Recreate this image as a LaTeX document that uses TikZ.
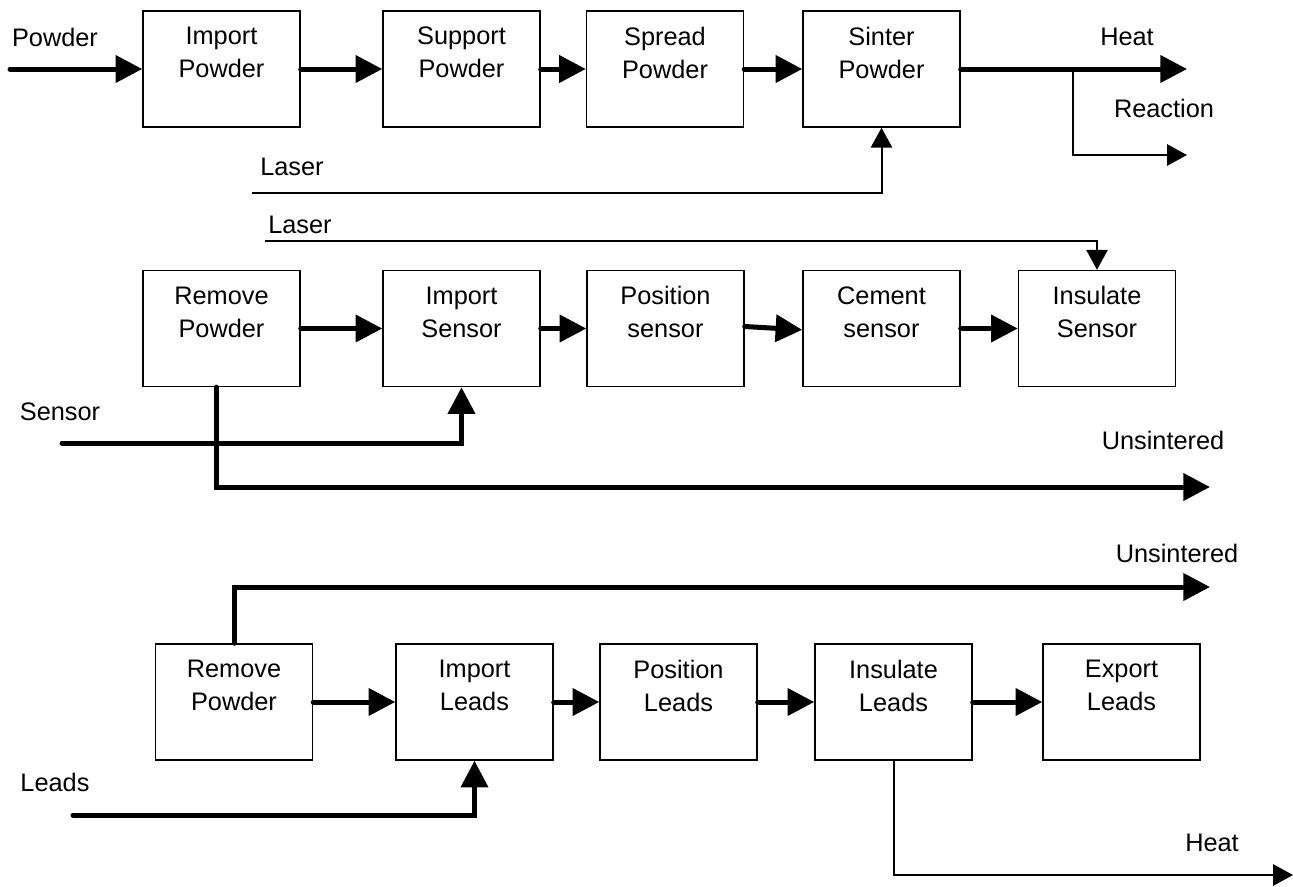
\documentclass[tikz,border=0pt]{standalone}
\usepackage{fontspec}
\setmainfont{Liberation Sans}
\usetikzlibrary{arrows.meta}
\tikzset{
  % a process step, text set high in the box
  proc/.style = {draw, line width=1.1pt, minimum width=117.75pt,
                 minimum height=87pt, inner sep=0pt, align=center,
                 font=\fontsize{19}{24.75}\selectfont},
  % a free label
  lbl/.style  = {inner sep=0pt, font=\fontsize{19}{24.75}\selectfont},
  % a main flow
  flow/.style = {-{Triangle[length=20pt,width=20pt]}, line width=3.75pt,
                 line cap=round},
  % a side flow
  side/.style = {-{Triangle[length=15pt,width=16pt]}, line width=1.5pt},
}
\newcommand{\twoln}[2]{#1\\#2\\\mbox{}}

\begin{document}
\begin{tikzpicture}[x=0.75pt, y=-0.75pt]
  \useasboundingbox (0,0) rectangle (1293,886);
  % --- build the part ---
  \node[proc] (ip)  at (221.5,69) {\twoln{Import}{Powder}};
  \node[proc] (sp)  at (461.5,69) {\twoln{Support}{Powder}};
  \node[proc] (spr) at (665,69)   {\twoln{Spread}{Powder}};
  \node[proc] (sin) at (881.5,69) {\twoln{Sinter}{Powder}};
  \node[lbl] (powder-l)   at (55,37)   {Powder};
  \node[lbl] (heat-l)     at (1127,37) {Heat};
  \node[lbl] (reaction-l) at (1164,108) {Reaction};
  \node[lbl] (laser-l)    at (292,167) {Laser};
  \coordinate (powder-in)  at (10,69);
  \coordinate (heat-out)   at (1187,69);
  \coordinate (branch)     at (1073,69);
  \coordinate (react-out)  at (1187,155);
  \coordinate (laser-in)   at (252,193);
  \draw[flow] (powder-in) -- (ip.west);
  \draw[flow] (ip.east)  -- (sp.west);
  \draw[flow] (sp.east)  -- (spr.west);
  \draw[flow] (spr.east) -- (sin.west);
  \draw[flow] (sin.east) -- (heat-out);
  \draw[side] (branch) |- (react-out);
  \draw[side] (laser-in) -| (sin.south);
  % --- fit the sensor ---
  \node[proc] (rp)  at (221.5,328.5) {\twoln{Remove}{Powder}};
  \node[proc] (is)  at (461.5,328.5) {\twoln{Import}{Sensor}};
  \node[proc] (ps)  at (665.5,328.5) {\twoln{Position}{sensor}};
  \node[proc] (cs)  at (881.5,328.5) {\twoln{Cement}{sensor}};
  \node[proc] (ins) at (1097,328.5)  {\twoln{Insulate}{Sensor}};
  \node[lbl] (laser2-l)  at (300,225)  {Laser};
  \node[lbl] (sensor-l)  at (60,412)   {Sensor};
  \node[lbl] (unsint-l)  at (1163,440) {Unsintered};
  \coordinate (laser2-in)  at (265,241);
  \coordinate (sensor-in)  at (62,443);
  \coordinate (unsint-out) at (1210,487);
  \draw[side] (laser2-in) -| (ins.north);
  \draw[flow] (rp.east) -- (is.west);
  \draw[flow] (is.east) -- (ps.west);
  \draw[flow] ([yshift=1.5pt]ps.east) -- ([yshift=-1pt]cs.west);
  \draw[flow] (cs.east) -- (ins.west);
  \draw[flow] ([xshift=-4pt]rp.south) |- (unsint-out);
  \draw[flow] (sensor-in) -| (is.south);
  % --- fit the leads ---
  \node[proc] (rp2) at (234,702)    {\twoln{Remove}{Powder}};
  \node[proc] (il)  at (474.5,702)  {\twoln{Import}{Leads}};
  \node[proc] (pl)  at (678.5,702)  {\twoln{Position}{Leads}};
  \node[proc] (inl) at (893.5,702)  {\twoln{Insulate}{Leads}};
  \node[proc] (el)  at (1121.5,702) {\twoln{Export}{Leads}};
  \node[lbl] (unsint2-l) at (1177,553) {Unsintered};
  \node[lbl] (leads-l)   at (55,782)   {Leads};
  \node[lbl] (heat2-l)   at (1212,843) {Heat};
  \coordinate (unsint2-out) at (1210,587);
  \coordinate (leads-in)    at (73,815);
  \coordinate (heat2-out)   at (1293,875);
  \draw[flow] (rp2.north) |- (unsint2-out);
  \draw[flow] (rp2.east) -- (il.west);
  \draw[flow] (il.east)  -- (pl.west);
  \draw[flow] (pl.east)  -- (inl.west);
  \draw[flow] (inl.east) -- (el.west);
  \draw[flow] (leads-in) -| (il.south);
  \draw[side] (inl.south) |- (heat2-out);
\end{tikzpicture}
\end{document}
